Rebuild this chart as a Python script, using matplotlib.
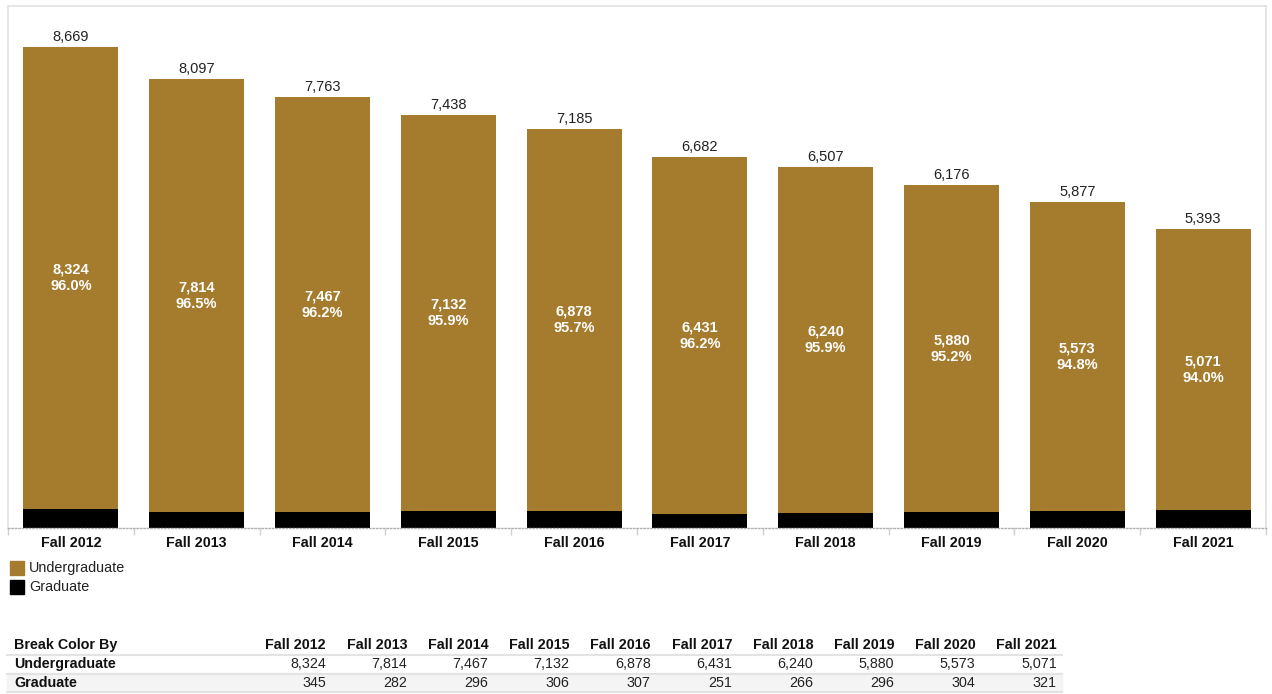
import numpy as np
import matplotlib.pyplot as plt
from matplotlib.patches import Rectangle

plt.rcParams['font.family'] = ['Liberation Sans', 'DejaVu Sans']

years = ['Fall 2012', 'Fall 2013', 'Fall 2014', 'Fall 2015', 'Fall 2016',
         'Fall 2017', 'Fall 2018', 'Fall 2019', 'Fall 2020', 'Fall 2021']
undergrad = [8324, 7814, 7467, 7132, 6878, 6431, 6240, 5880, 5573, 5071]
grad = [345, 282, 296, 306, 307, 251, 266, 296, 304, 321]
# totals and shares as printed on the chart
totals = [8669, 8097, 7763, 7438, 7185, 6682, 6507, 6176, 5877, 5393]
ug_pct = [96.0, 96.5, 96.2, 95.9, 95.7, 96.2, 95.9, 95.2, 94.8, 94.0]

gold = '#A57B2D'
W, H = 1272, 694
fig = plt.figure(figsize=(W / 100, H / 100), dpi=100)

# chart area, in pixels
x0, x1, ytop, ybase = 8, 1266, 6, 528
ax = fig.add_axes([x0 / W, 1 - ybase / H, (x1 - x0) / W, (ybase - ytop) / H])

ug = np.array(undergrad)
gr = np.array(grad)
x = np.arange(len(years))
bw = 0.755
ax.bar(x, gr, width=bw, color='black', zorder=2)
ax.bar(x, ug, width=bw, bottom=gr, color=gold, zorder=2)

for i in range(len(years)):
    ax.text(x[i], gr[i] + ug[i] + 50, f'{totals[i]:,}', ha='center', va='bottom',
            fontsize=10.5, color='#222222')
    ax.text(x[i], gr[i] + ug[i] / 2, f'{ug[i]:,}\n{ug_pct[i]:.1f}%', ha='center',
            va='center', fontsize=10.5, color='white', fontweight='bold',
            linespacing=1.22)

ax.set_xlim(-0.5, len(years) - 0.5)
ax.set_ylim(0, 9405)
ax.set_yticks([])
ax.set_xticks(x)
ax.set_xticklabels(years, fontsize=10.3, fontweight='bold', color='#111111')
ax.tick_params(axis='x', length=0, pad=6)
ax.set_xticks(np.arange(len(years) + 1) - 0.5, minor=True)
ax.tick_params(axis='x', which='minor', length=5, color='#d0d0d0', width=1)
for s in ['top', 'left', 'right']:
    ax.spines[s].set_color('#e2e2e2')
    ax.spines[s].set_linewidth(1.2)
ax.spines['bottom'].set_color('#b0b0b0')
ax.spines['bottom'].set_linestyle((0, (1, 1.5)))
ax.spines['bottom'].set_linewidth(1)

# legend
def px(xp, yp):
    return xp / W, 1 - yp / H

for k, (lab, col) in enumerate([('Undergraduate', gold), ('Graduate', 'black')]):
    yc = 568 + k * 19
    fig.patches.append(Rectangle(px(10, yc + 7), 14 / W, 14 / H, color=col,
                                 transform=fig.transFigure))
    fig.text(*px(29, yc), lab, fontsize=10.4, va='center', ha='left', color='#222222')

# table
col_right = [326 + 81.2 * i for i in range(len(years))]
tx0, tx1 = 7, 1062
fig.patches.append(Rectangle(px(tx0, 692), (tx1 - tx0) / W, 19 / H,
                             color='#f4f4f4', transform=fig.transFigure, zorder=0))
for yl in [655, 674, 692]:
    fig.add_artist(plt.Line2D([tx0 / W, tx1 / W], [1 - yl / H, 1 - yl / H],
                              color='#e3e3e3', lw=1.5, transform=fig.transFigure))

fs = 10.3
fig.text(*px(14, 645), 'Break Color By', fontsize=fs, fontweight='bold',
         va='center', color='#111111')
fig.text(*px(14, 664), 'Undergraduate', fontsize=fs, fontweight='bold',
         va='center', color='#111111')
fig.text(*px(14, 683), 'Graduate', fontsize=fs, fontweight='bold',
         va='center', color='#111111')
for i in range(len(years)):
    fig.text(*px(col_right[i], 645), years[i], fontsize=fs, fontweight='bold',
             ha='right', va='center', color='#111111')
    fig.text(*px(col_right[i], 664), f'{undergrad[i]:,}', fontsize=fs,
             ha='right', va='center', color='#222222')
    fig.text(*px(col_right[i], 683), f'{grad[i]:,}', fontsize=fs,
             ha='right', va='center', color='#222222')

fig.savefig('out.png', dpi=100)
